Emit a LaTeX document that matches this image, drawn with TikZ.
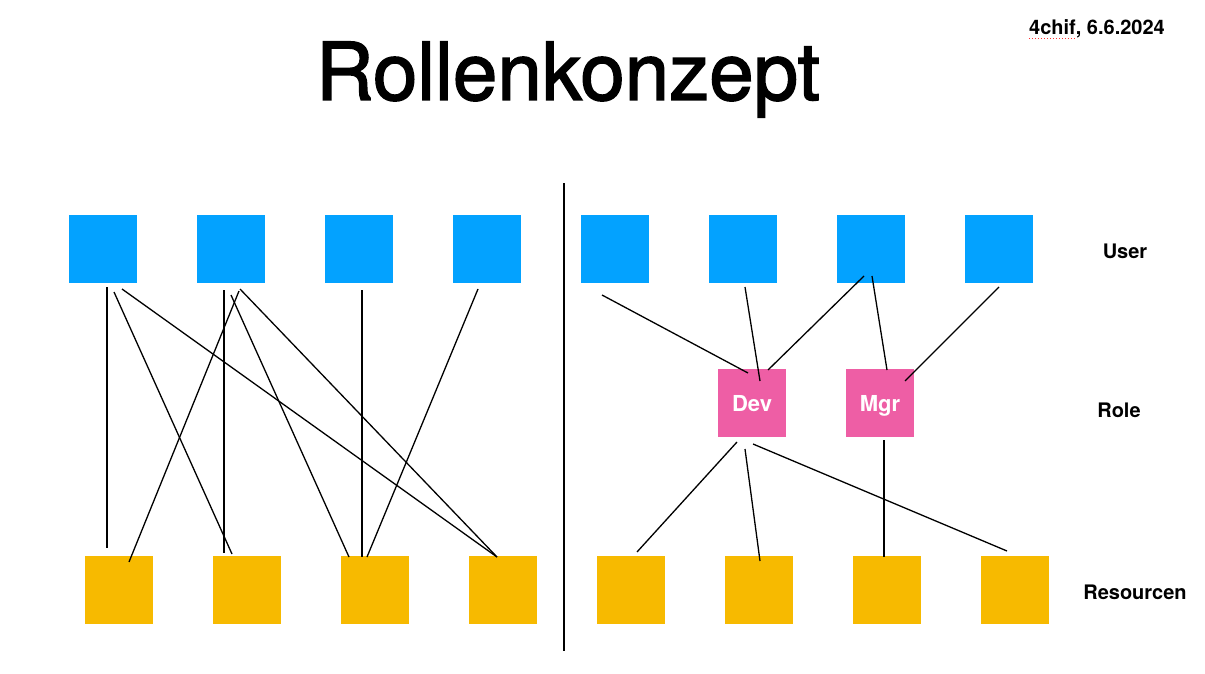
\documentclass[tikz,border=0pt]{standalone}
\usepackage{fontspec}
\setmainfont{TeX Gyre Heros}
\font\titlefont="TeX Gyre Heros:embolden=1.8" at 80pt
\usetikzlibrary{calc}
\definecolor{userblue}{RGB}{3,162,255}
\definecolor{resyellow}{RGB}{247,186,0}
\definecolor{rolepink}{RGB}{238,94,165}
\begin{document}
\begin{tikzpicture}[x=1pt,y=-1pt,
  box/.style={rectangle,minimum size=68pt,inner sep=0pt,draw=none},
  user/.style={box,fill=userblue},
  res/.style={box,fill=resyellow},
  role/.style={box,fill=rolepink,text=white,text height=17pt,text depth=0pt,font=\bfseries\fontsize{22}{26}\selectfont},
  link/.style={line width=1.3pt,black},
  lbl/.style={font=\bfseries\fontsize{20}{24}\selectfont,anchor=base,inner sep=0pt}]
\useasboundingbox[fill=white] (0,0) rectangle (1205,674);
% title
\node[anchor=base,inner sep=0pt,font=\titlefont] (title) at (568,100) {Rollenkonzept};
\node[lbl] (date) at (1097,35) {4chif, 6.6.2024};
\draw[red!80,line width=1pt,dotted] ($(date.base west)+(0,4)$) coordinate (sq1) -- ($(date.base west)+(46,4)$) coordinate (sq2);
% labels
\node[lbl] (luser) at (1125,258) {User};
\node[lbl] (lrole) at (1119,417) {Role};
\node[lbl] (lres) at (1135,599) {Resourcen};
% divider
\coordinate (dtop) at (564,183);
\coordinate (dbot) at (564,651);
\draw[line width=2pt] (dtop) -- (dbot);
% users
\node[user] (u1) at (103,249) {};
\node[user] (u2) at (231,249) {};
\node[user] (u3) at (359,249) {};
\node[user] (u4) at (487,249) {};
\node[user] (u5) at (615,249) {};
\node[user] (u6) at (743,249) {};
\node[user] (u7) at (871,249) {};
\node[user] (u8) at (999,249) {};
% resources
\node[res] (r1) at (118.5,590) {};
\node[res] (r2) at (247,590) {};
\node[res] (r3) at (375,590) {};
\node[res] (r4) at (503,590) {};
\node[res] (r5) at (631,590) {};
\node[res] (r6) at (759,590) {};
\node[res] (r7) at (887,590) {};
\node[res] (r8) at (1015,590) {};
% roles
\node[role] (dev) at (752,403) {Dev};
\node[role] (mgr) at (880,403) {Mgr};
% left links
\draw[link] ($(u1)+(4,38)$) -- ($(r1)+(-11.5,-42)$);
\draw[link] ($(u1)+(11,43)$) -- ($(r2)+(-15,-36)$);
\draw[link] ($(u1)+(19,40)$) -- ($(r4)+(-6,-33)$);
\draw[link] ($(u2)+(-7,41)$) -- ($(r2)+(-23,-37)$);
\draw[link] ($(u2)+(8,42)$) -- ($(r1)+(10.5,-28)$);
\draw[link] ($(u2)+(0,46)$) -- ($(r3)+(-26,-33)$);
\draw[link] ($(u2)+(9,40)$) -- ($(r4)+(-6,-33)$);
\draw[link] ($(u3)+(3,41)$) -- ($(r3)+(-13,-33)$);
\draw[link] ($(u4)+(-9,40)$) -- ($(r3)+(-8,-33)$);
% right links
\draw[link] ($(u5)+(-13,46)$) -- ($(dev)+(-4,-30)$);
\draw[link] ($(u6)+(2,38)$) -- ($(dev)+(8,-22)$);
\draw[link] ($(u7)+(-7,27)$) -- ($(dev)+(16,-33)$);
\draw[link] ($(u7)+(1,27)$) -- ($(mgr)+(7,-33)$);
\draw[link] ($(u8)+(0,38)$) -- ($(mgr)+(25,-22)$);
\draw[link] ($(dev)+(-15,39)$) -- ($(r5)+(6,-38)$);
\draw[link] ($(dev)+(-7,46)$) -- ($(r6)+(1,-29)$);
\draw[link] ($(dev)+(1,41)$) -- ($(r8)+(-8,-39)$);
\draw[link] ($(mgr)+(4,37)$) -- ($(r7)+(-3,-33)$);
\end{tikzpicture}
\end{document}
